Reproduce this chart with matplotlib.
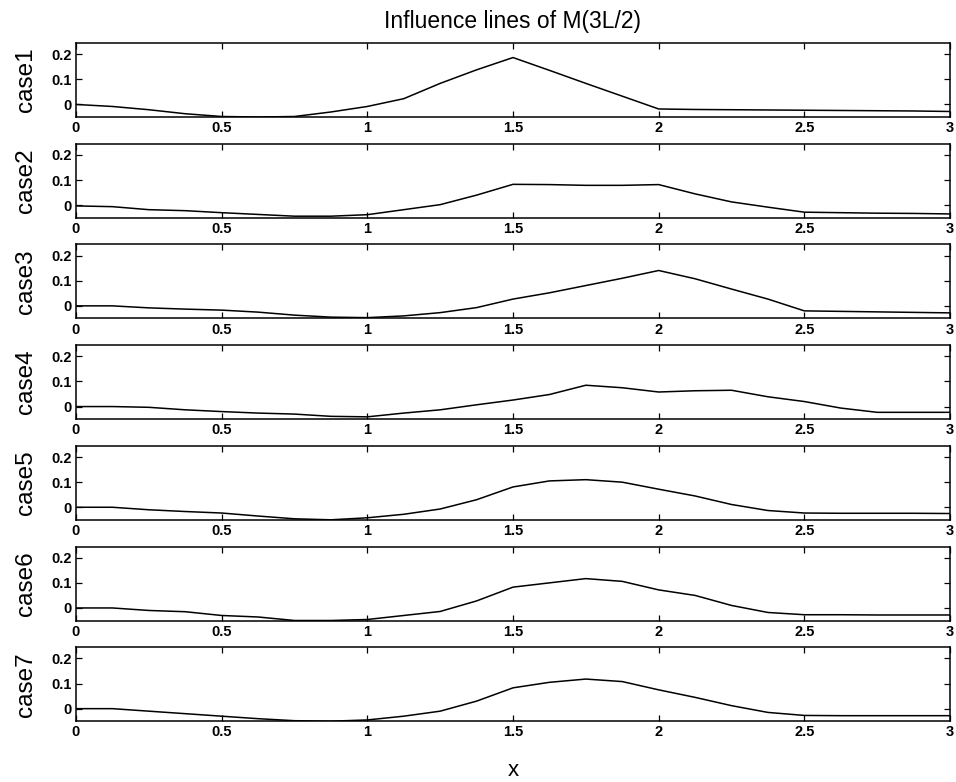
import matplotlib
matplotlib.use("Agg")
import matplotlib.pyplot as plt

plt.rcParams['font.family'] = ['Liberation Sans', 'DejaVu Sans']

x = [0, 0.125, 0.25, 0.375, 0.5, 0.625, 0.75, 0.875, 1.0, 1.125, 1.25, 1.375,
     1.5, 1.625, 1.75, 1.875, 2.0, 2.125, 2.25, 2.375, 2.5, 2.625, 2.75, 2.875, 3.0]

case1 = [0, -0.008, -0.021, -0.037, -0.048, -0.05, -0.048, -0.03, -0.008, 0.023, 0.084, 0.138,
         0.187, 0.136, 0.084, 0.033, -0.018, -0.02, -0.021, -0.022, -0.023, -0.024, -0.025, -0.026, -0.028]
case2 = [-0.003, -0.006, -0.018, -0.022, -0.03, -0.037, -0.044, -0.044, -0.038, -0.018, 0.002, 0.04,
         0.083, 0.082, 0.079, 0.079, 0.082, 0.045, 0.013, -0.008, -0.028, -0.03, -0.032, -0.033, -0.035]
case3 = [0, 0, -0.008, -0.013, -0.017, -0.025, -0.037, -0.045, -0.047, -0.04, -0.027, -0.007,
         0.027, 0.052, 0.081, 0.11, 0.141, 0.108, 0.067, 0.027, -0.02, -0.022, -0.024, -0.026, -0.028]
case4 = [0, 0, -0.003, -0.013, -0.02, -0.026, -0.03, -0.039, -0.041, -0.026, -0.013, 0.007,
         0.026, 0.048, 0.085, 0.075, 0.058, 0.063, 0.065, 0.039, 0.02, -0.006, -0.023, -0.023, -0.023]
case5 = [0, 0, -0.01, -0.017, -0.023, -0.035, -0.046, -0.05, -0.042, -0.028, -0.007, 0.03,
         0.081, 0.105, 0.11, 0.1, 0.072, 0.045, 0.011, -0.013, -0.023, -0.024, -0.024, -0.024, -0.025]
case6 = [0, 0, -0.01, -0.015, -0.03, -0.036, -0.05, -0.05, -0.046, -0.03, -0.014, 0.028,
         0.083, 0.1, 0.117, 0.106, 0.072, 0.05, 0.01, -0.018, -0.027, -0.027, -0.028, -0.028, -0.028]
case7 = [0, 0, -0.01, -0.02, -0.03, -0.04, -0.048, -0.05, -0.045, -0.03, -0.01, 0.03,
         0.083, 0.105, 0.118, 0.108, 0.075, 0.045, 0.012, -0.015, -0.027, -0.028, -0.028, -0.028, -0.028]

cases = [case1, case2, case3, case4, case5, case6, case7]
labels = ["case1", "case2", "case3", "case4", "case5", "case6", "case7"]
xticks = [0, 0.5, 1, 1.5, 2, 2.5, 3]
xticklabels = ["0", "0.5", "1", "1.5", "2", "2.5", "3"]
yticks = [0, 0.1, 0.2]
yticklabels = ["0", "0.1", "0.2"]

W, H = 956, 782
fig = plt.figure(figsize=(W / 100, H / 100), dpi=100)

left_px, right_px = 76, 950
top0, step, hgt = 43, 100.7, 74

for i, (vals, lab) in enumerate(zip(cases, labels)):
    top = top0 + step * i
    ax = fig.add_axes([left_px / W, 1 - (top + hgt) / H, (right_px - left_px) / W, hgt / H])
    ax.plot(x, vals, color='black', linewidth=1.1)
    ax.set_xlim(0, 3)
    ax.set_ylim(-0.05, 0.245)
    ax.set_xticks(xticks)
    ax.set_xticklabels(xticklabels, fontsize=10.5, fontweight='bold')
    ax.set_yticks(yticks)
    ax.set_yticklabels(yticklabels, fontsize=10.5, fontweight='bold')
    ax.tick_params(direction='in', length=4, width=0.9, top=True, right=True, pad=3)
    ax.set_ylabel(lab, fontsize=17.5, labelpad=10)
    for s in ax.spines.values():
        s.set_linewidth(1.1)
    if i == 0:
        ax.set_title("Influence lines of M(3L/2)", fontsize=16.5, pad=11)
    if i == len(cases) - 1:
        ax.set_xlabel("x", fontsize=16, labelpad=15)

fig.savefig("out.png", dpi=100)
